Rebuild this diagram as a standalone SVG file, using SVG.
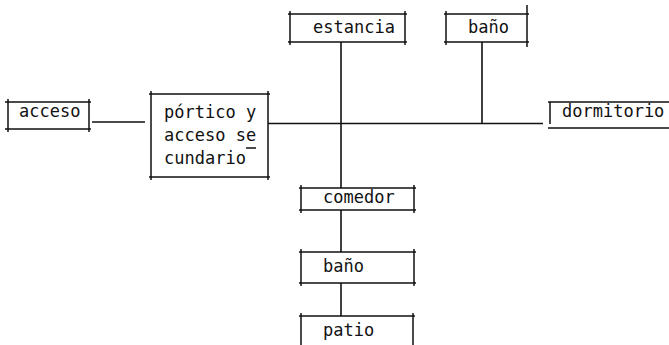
<svg xmlns="http://www.w3.org/2000/svg" width="669" height="345" viewBox="0 0 669 345">
<style>
.b{fill:none;stroke:#111;stroke-width:1.5}
.c{fill:none;stroke:#111;stroke-width:1.6}
text{font-family:"DejaVu Sans Mono","Liberation Mono",monospace;font-size:17px;fill:#111}
</style>
<rect width="669" height="345" fill="#fff"/>
<g id="connectors">
<path class="c" d="M92 122H145"/>
<path class="c" d="M268 123.5H543"/>
<path class="c" d="M341 42V188"/>
<path class="c" d="M482 42V124"/>
<path class="c" d="M341 210V252"/>
<path class="c" d="M341 283V316"/>
</g>
<g id="acceso">
<path class="b" d="M5 102H91M5 129H91M8 99V132M89 99V132"/>
<text x="19" y="117">acceso</text>
</g>
<g id="portico">
<path class="b" d="M149 94H270M149 177H270M151 91V180M268 91V180"/>
<text x="164" y="118">pórtico y</text>
<text x="164" y="141">acceso se</text>
<text x="164" y="164">cundario</text>
<path class="b" d="M246 148H256"/>
</g>
<g id="estancia">
<path class="b" d="M288 14H407M288 42H407M290 11V45M405 11V45"/>
<text x="313" y="33">estancia</text>
</g>
<g id="bano1">
<path class="b" d="M444 14H529M444 42H529M446 11V45M527 5V47"/>
<text x="468" y="33">baño</text>
</g>
<g id="dormitorio">
<path class="b" d="M548 102H669M548 128H669M550 102V124"/>
<text x="562" y="117">dormitorio</text>
</g>
<g id="comedor">
<path class="b" d="M299 188H416M299 210H416M301 185V213M414 185V213"/>
<text x="323" y="203">comedor</text>
</g>
<g id="bano2">
<path class="b" d="M299 252H416M299 283H416M301 249V286M414 249V286"/>
<text x="323" y="272">baño</text>
</g>
<g id="patio">
<path class="b" d="M299 316H415M301 313V345M413 313V345"/>
<text x="323" y="336">patio</text>
</g>
</svg>
